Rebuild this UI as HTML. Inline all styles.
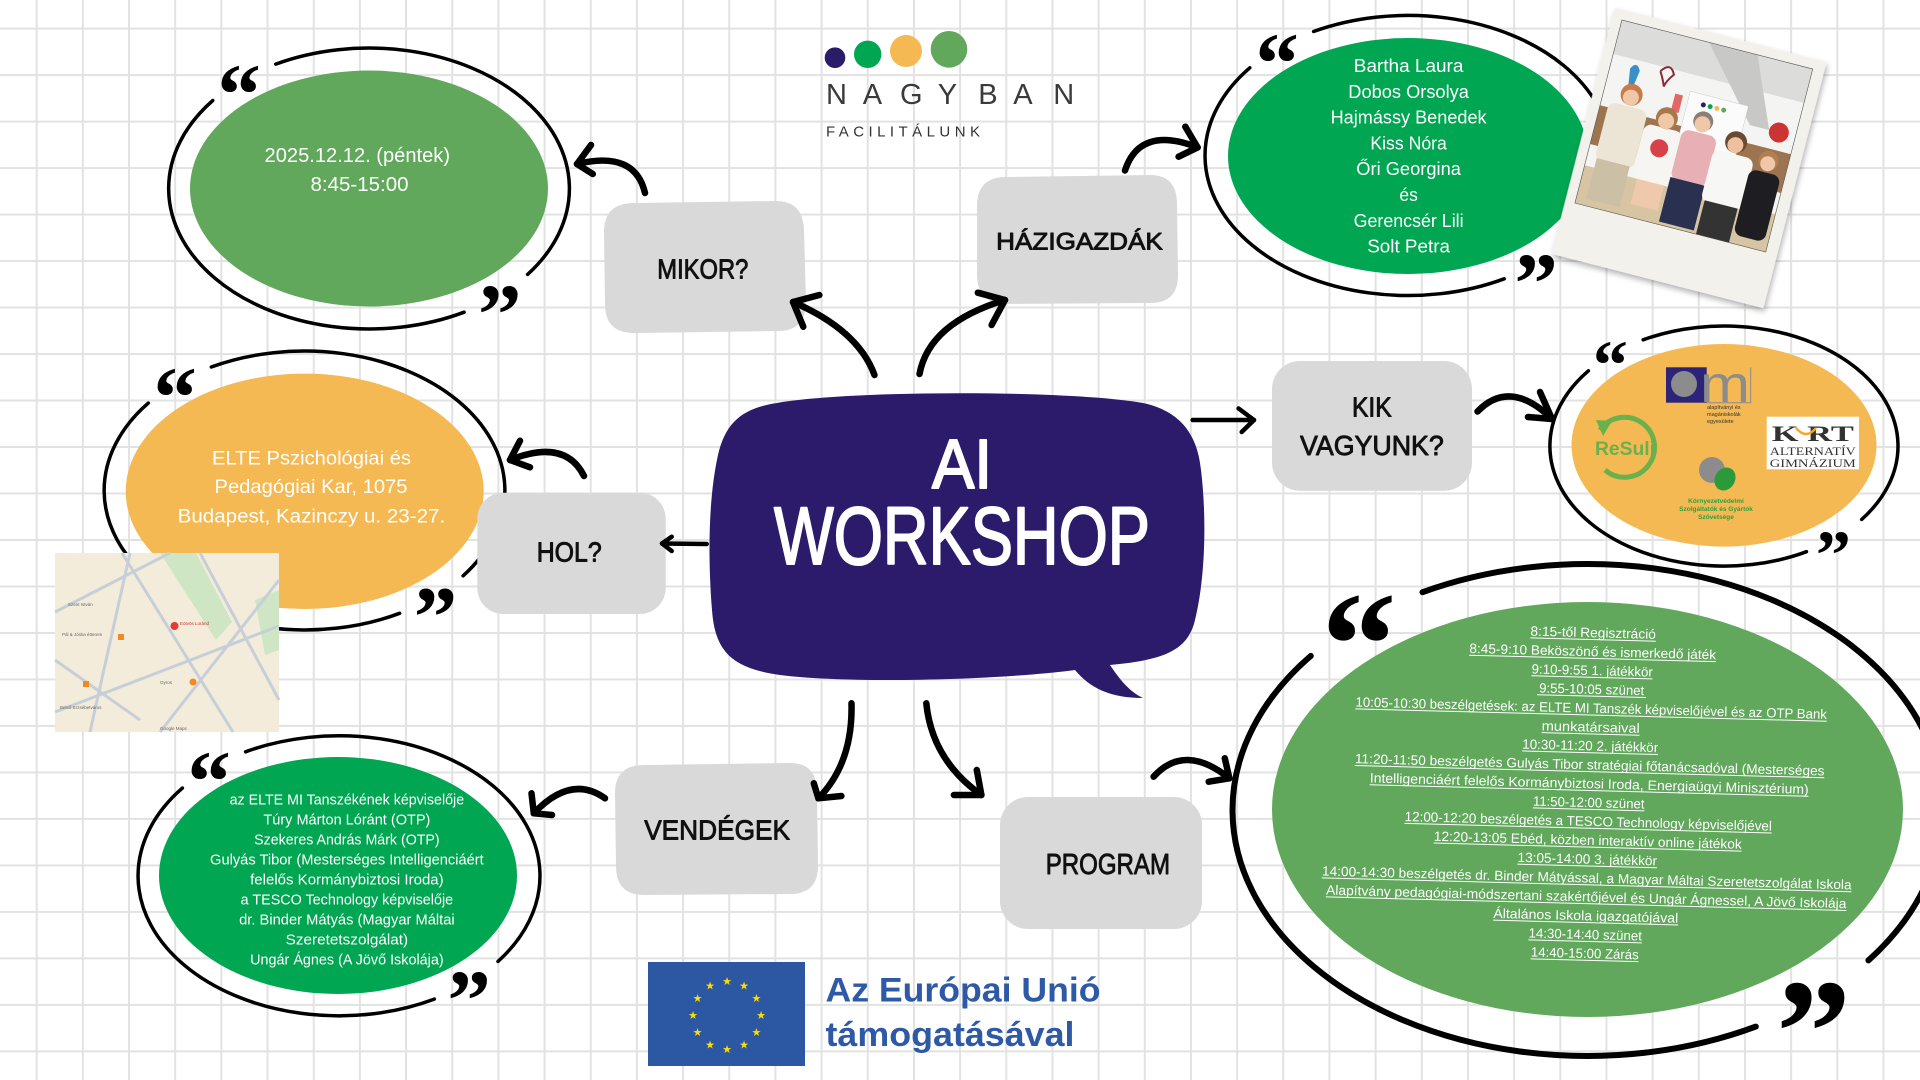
<!DOCTYPE html>
<html><head><meta charset="utf-8"><style>
html,body{margin:0;padding:0;background:#fff;}
body{width:1920px;height:1080px;overflow:hidden;}
svg{display:block;}
</style></head><body>
<svg width="1920" height="1080" viewBox="0 0 1920 1080" xmlns="http://www.w3.org/2000/svg">
<defs>
<pattern id="gv" x="35.7" y="0" width="46.17" height="1080" patternUnits="userSpaceOnUse"><rect x="0" y="0" width="2" height="1080" fill="#e2e2e2"/></pattern>
<pattern id="gh" x="0" y="27.6" width="1920" height="46.49" patternUnits="userSpaceOnUse"><rect x="0" y="0" width="1920" height="2" fill="#e2e2e2"/></pattern>
<filter id="sh" x="-20%" y="-20%" width="140%" height="140%"><feDropShadow dx="2" dy="3" stdDeviation="3" flood-color="#000" flood-opacity="0.3"/></filter>
</defs>
<rect width="1920" height="1080" fill="#fff"/>
<rect width="1920" height="1080" fill="url(#gv)"/>
<rect width="1920" height="1080" fill="url(#gh)"/>

<!-- LOGO -->
<circle cx="835" cy="57.7" r="10.3" fill="#2c1a6a"/>
<circle cx="867.7" cy="54.3" r="13.7" fill="#00a651"/>
<circle cx="906" cy="51" r="16" fill="#f5b953"/>
<circle cx="949" cy="49.3" r="18.3" fill="#61a85c"/>
<text x="826 862.7 900 937.7 978.3 1013.3 1053.3" y="104" font-family="Liberation Sans, sans-serif" font-size="29" fill="#3a3a3a" font-weight="300">NAGYBAN</text>
<text x="826" y="136.7" font-family="Liberation Sans, sans-serif" font-size="15" fill="#333" textLength="154" lengthAdjust="spacing">FACILITÁLUNK</text>

<!-- ELLIPSE FILLS -->
<ellipse cx="369" cy="188.5" rx="179" ry="118" fill="#61a85c"/>
<ellipse cx="1408" cy="156" rx="180" ry="118" fill="#00a651"/>
<ellipse cx="1724" cy="445.3" rx="152.5" ry="101.3" fill="#f5b953"/>
<ellipse cx="304.7" cy="491.3" rx="179" ry="117.7" fill="#f5b953"/>
<ellipse cx="338" cy="875.5" rx="179" ry="118.5" fill="#00a651"/>
<ellipse cx="1587.5" cy="809.5" rx="315.5" ry="207.5" fill="#61a85c"/>

<!-- RINGS -->
<g fill="none" stroke="#000" stroke-width="3.5" stroke-linecap="round">
<path d="M275.8 64.1 A200.5 140.5 0 0 1 527.6 274.4 M464.1 312.2 A200.5 140.5 0 0 1 212.8 100.5"/>
<path d="M1313.6 31.5 A203 140 0 0 1 1568.6 241.1 M1504.2 278.8 A203 140 0 0 1 1249.8 67.8"/>
<path d="M211.3 367 A200.5 139.5 0 0 1 463.1 575.8 M399.6 613.3 A200.5 139.5 0 0 1 148.3 403.1"/>
<path d="M245.6 751.8 A201 140 0 0 1 498 961.4 M434.3 999.1 A201 140 0 0 1 182.4 788.1"/>
<path d="M1643.1 339.8 A174 120 0 0 1 1861.7 519.4 M1806.5 551.7 A174 120 0 0 1 1588.4 370.8"/>
<path stroke-width="6" d="M1422.5 592.2 A355 246 0 0 1 1868.4 960.4 M1755.8 1026.6 A355 246 0 0 1 1310.8 655.9"/>
</g>

<!-- QUOTES -->
<g font-family="Liberation Serif, serif" font-weight="bold" fill="#000">
<text x="217.4" y="123.7" font-size="87">“</text>
<text x="478" y="344" font-size="87">”</text>
<text x="1255.4" y="92.7" font-size="87">“</text>
<text x="1514.4" y="313" font-size="87">”</text>
<text x="153.4" y="426.7" font-size="87">“</text>
<text x="413.8" y="646.5" font-size="87">”</text>
<text x="187.4" y="810.7" font-size="87">“</text>
<text x="447.4" y="1030" font-size="87">”</text>
<text x="1592.9" y="388.3" font-size="70">“</text>
<text x="1815.9" y="578.3" font-size="70">”</text>
<text x="1321.5" y="695.1" font-size="150">“</text>
<text x="1776.1" y="1082.5" font-size="150">”</text>
</g>

<!-- CIRCLE TEXTS -->
<g font-family="Liberation Sans, sans-serif" fill="#fff" text-anchor="middle">
<text x="357.3" y="162" font-size="20" textLength="185.5" lengthAdjust="spacingAndGlyphs">2025.12.12. (péntek)</text>
<text x="359.5" y="191" font-size="20" textLength="98" lengthAdjust="spacingAndGlyphs">8:45-15:00</text>

<text x="1408.6" y="72" font-size="18" textLength="109.6" lengthAdjust="spacingAndGlyphs">Bartha Laura</text>
<text x="1408.6" y="97.8" font-size="18" textLength="120.6" lengthAdjust="spacingAndGlyphs">Dobos Orsolya</text>
<text x="1408.6" y="123.5" font-size="18" textLength="156" lengthAdjust="spacingAndGlyphs">Hajmássy Benedek</text>
<text x="1408.6" y="149.5" font-size="18" textLength="76.5" lengthAdjust="spacingAndGlyphs">Kiss Nóra</text>
<text x="1408.6" y="175.2" font-size="18" textLength="104.7" lengthAdjust="spacingAndGlyphs">Őri Georgina</text>
<text x="1408.6" y="201" font-size="18" textLength="18.4" lengthAdjust="spacingAndGlyphs">és</text>
<text x="1408.6" y="227" font-size="18" textLength="110" lengthAdjust="spacingAndGlyphs">Gerencsér Lili</text>
<text x="1408.6" y="252.7" font-size="18" textLength="82.7" lengthAdjust="spacingAndGlyphs">Solt Petra</text>

<text x="311.5" y="464.3" font-size="19.5" textLength="199" lengthAdjust="spacingAndGlyphs">ELTE Pszichológiai és</text>
<text x="311" y="493.2" font-size="19.5" textLength="193" lengthAdjust="spacingAndGlyphs">Pedagógiai Kar, 1075</text>
<text x="311.4" y="522.5" font-size="19.5" textLength="267.6" lengthAdjust="spacingAndGlyphs">Budapest, Kazinczy u. 23-27.</text>

<text x="346.9" y="804.4" font-size="15" textLength="234.5" lengthAdjust="spacingAndGlyphs">az ELTE MI Tanszékének képviselője</text>
<text x="346.9" y="824.4" font-size="15" textLength="167" lengthAdjust="spacingAndGlyphs">Túry Márton Lóránt (OTP)</text>
<text x="346.9" y="844.4" font-size="15" textLength="185.5" lengthAdjust="spacingAndGlyphs">Szekeres András Márk (OTP)</text>
<text x="346.9" y="864.4" font-size="15" textLength="273.7" lengthAdjust="spacingAndGlyphs">Gulyás Tibor (Mesterséges Intelligenciáért</text>
<text x="346.9" y="884.4" font-size="15" textLength="193.5" lengthAdjust="spacingAndGlyphs">felelős Kormánybiztosi Iroda)</text>
<text x="346.9" y="904.4" font-size="15" textLength="212.5" lengthAdjust="spacingAndGlyphs">a TESCO Technology képviselője</text>
<text x="346.9" y="924.4" font-size="15" textLength="215.5" lengthAdjust="spacingAndGlyphs">dr. Binder Mátyás (Magyar Máltai</text>
<text x="346.9" y="944.4" font-size="15" textLength="122.5" lengthAdjust="spacingAndGlyphs">Szeretetszolgálat)</text>
<text x="346.9" y="964.4" font-size="15" textLength="193.5" lengthAdjust="spacingAndGlyphs">Ungár Ágnes (A Jövő Iskolája)</text>
</g>

<!-- PROGRAM TEXT -->
<g transform="rotate(1.5 1589 793)" font-family="Liberation Sans, sans-serif" fill="#fff" text-anchor="middle" font-size="13.5">
<g stroke="#fff" stroke-width="1">
<line x1="1526.2" y1="639.5" x2="1651.8" y2="639.5"/>
<line x1="1465.6" y1="658.4" x2="1712.4" y2="658.4"/>
<line x1="1528.4" y1="677.3" x2="1649.6" y2="677.3"/>
<line x1="1534.5" y1="696.1" x2="1643.5" y2="696.1"/>
<line x1="1353.2" y1="715" x2="1824.8" y2="715"/>
<line x1="1540" y1="733.9" x2="1638" y2="733.9"/>
<line x1="1521" y1="752.7" x2="1657" y2="752.7"/>
<line x1="1354.1" y1="771.6" x2="1823.8" y2="771.6"/>
<line x1="1369.5" y1="790.5" x2="1808.5" y2="790.5"/>
<line x1="1533.2" y1="809.4" x2="1644.8" y2="809.4"/>
<line x1="1405.3" y1="828.2" x2="1772.7" y2="828.2"/>
<line x1="1435" y1="847.1" x2="1743" y2="847.1"/>
<line x1="1519.2" y1="866" x2="1658.8" y2="866"/>
<line x1="1324.1" y1="884.8" x2="1853.9" y2="884.8"/>
<line x1="1328.7" y1="903.7" x2="1849.3" y2="903.7"/>
<line x1="1496.5" y1="922.6" x2="1681.5" y2="922.6"/>
<line x1="1532.3" y1="941.4" x2="1645.7" y2="941.4"/>
<line x1="1535.1" y1="960.3" x2="1642.9" y2="960.3"/>
</g>
<text x="1589" y="637.2" textLength="125.5" lengthAdjust="spacingAndGlyphs">8:15-től Regisztráció</text>
<text x="1589" y="656.1" textLength="246.8" lengthAdjust="spacingAndGlyphs">8:45-9:10 Beköszönő és ismerkedő játék</text>
<text x="1589" y="675" textLength="121.2" lengthAdjust="spacingAndGlyphs">9:10-9:55 1. játékkör</text>
<text x="1589" y="693.8" textLength="105" lengthAdjust="spacingAndGlyphs">9:55-10:05 szünet</text>
<text x="1589" y="712.7" textLength="471.5" lengthAdjust="spacingAndGlyphs">10:05-10:30 beszélgetések: az ELTE MI Tanszék képviselőjével és az OTP Bank</text>
<text x="1589" y="731.6" textLength="98" lengthAdjust="spacingAndGlyphs">munkatársaival</text>
<text x="1589" y="750.4" textLength="136" lengthAdjust="spacingAndGlyphs">10:30-11:20 2. játékkör</text>
<text x="1589" y="769.3" textLength="469.7" lengthAdjust="spacingAndGlyphs">11:20-11:50 beszélgetés Gulyás Tibor stratégiai főtanácsadóval (Mesterséges</text>
<text x="1589" y="788.2" textLength="439" lengthAdjust="spacingAndGlyphs">Intelligenciáért felelős Kormánybiztosi Iroda, Energiaügyi Minisztérium)</text>
<text x="1589" y="807.1" textLength="111.5" lengthAdjust="spacingAndGlyphs">11:50-12:00 szünet</text>
<text x="1589" y="825.9" textLength="367.4" lengthAdjust="spacingAndGlyphs">12:00-12:20 beszélgetés a TESCO Technology képviselőjével</text>
<text x="1589" y="844.8" textLength="308" lengthAdjust="spacingAndGlyphs">12:20-13:05 Ebéd, közben interaktív online játékok</text>
<text x="1589" y="863.7" textLength="139.6" lengthAdjust="spacingAndGlyphs">13:05-14:00 3. játékkör</text>
<text x="1589" y="882.5" textLength="529.7" lengthAdjust="spacingAndGlyphs">14:00-14:30 beszélgetés dr. Binder Mátyással, a Magyar Máltai Szeretetszolgálat Iskola</text>
<text x="1589" y="901.4" textLength="520.5" lengthAdjust="spacingAndGlyphs">Alapítvány pedagógiai-módszertani szakértőjével és Ungár Ágnessel, A Jövő Iskolája</text>
<text x="1589" y="920.3" textLength="185" lengthAdjust="spacingAndGlyphs">Általános Iskola igazgatójával</text>
<text x="1589" y="939.1" textLength="113.3" lengthAdjust="spacingAndGlyphs">14:30-14:40 szünet</text>
<text x="1589" y="958" textLength="107.8" lengthAdjust="spacingAndGlyphs">14:40-15:00 Zárás</text>
</g>

<!-- KIK LOGOS -->
<rect x="1666" y="367.3" width="40.7" height="35.4" fill="#2b2478"/>
<circle cx="1684" cy="384" r="13" fill="#8c8c8c"/>
<text x="1700" y="402" font-family="Liberation Sans, sans-serif" font-size="52" fill="#8c8c8c" textLength="50" lengthAdjust="spacingAndGlyphs">m</text>
<path d="M1750.7 367.3 V402.7 H1706.7" fill="none" stroke="#8c8c8c" stroke-width="1"/>
<g font-family="Liberation Sans, sans-serif" font-size="5.5" fill="#333">
<text x="1707" y="409">alapítványi és</text>
<text x="1707" y="416">magániskolák</text>
<text x="1707" y="423">egyesülete</text>
</g>
<path d="M1600 430 A30 30 0 1 1 1605 470" fill="none" stroke="#6ab04c" stroke-width="5"/>
<path d="M1603 436 L1612 421 L1596 420 Z" fill="#6ab04c"/>
<text x="1595" y="455" font-family="Liberation Sans, sans-serif" font-weight="bold" font-size="19" fill="#6ab04c" textLength="60" lengthAdjust="spacingAndGlyphs">ReSuli</text>
<rect x="1766.7" y="416.7" width="92.3" height="52.6" fill="#fff"/>
<g font-family="Liberation Serif, serif" fill="#333" text-anchor="middle">
<text x="1812.8" y="441" font-size="22" font-weight="bold" textLength="82" lengthAdjust="spacingAndGlyphs">K    RT</text>
<text x="1812.8" y="455" font-size="12" textLength="86" lengthAdjust="spacingAndGlyphs">ALTERNATÍV</text>
<text x="1812.8" y="467" font-size="12" textLength="86" lengthAdjust="spacingAndGlyphs">GIMNÁZIUM</text>
</g>
<path d="M1796 428 Q1806 440 1816 428" fill="none" stroke="#f5a623" stroke-width="2.5"/>
<circle cx="1712" cy="470" r="13" fill="#8c8c8c"/>
<ellipse cx="1725" cy="479" rx="10" ry="12" fill="#2a9a3a" transform="rotate(30 1725 479)"/>
<g font-family="Liberation Sans, sans-serif" font-size="6.5" font-weight="bold" fill="#2e9e3e" text-anchor="middle">
<text x="1716" y="503">Környezetvédelmi</text>
<text x="1716" y="511">Szolgáltatók és Gyártók</text>
<text x="1716" y="519">Szövetsége</text>
</g>

<!-- PHOTO -->
<g transform="translate(1689 158) rotate(14.4)">
<rect x="-109.3" y="-127" width="218.6" height="254" fill="#f2f1ec" filter="url(#sh)"/>
<g transform="translate(-99.3 -117)">
<rect width="197" height="189" fill="#f4f4f2"/>
<rect width="197" height="35" fill="#dcdcda"/>
<polygon points="90,0 140,0 170,70 150,70" fill="#c8c8c6"/>
<rect x="0" y="88" width="197" height="40" fill="#9c7450"/>
<rect x="0" y="150" width="197" height="39" fill="#d6c4a2"/>
<rect x="84" y="52" width="60" height="60" fill="#fbfbfb" stroke="#ccc" stroke-width="0.5"/>
<circle cx="100" cy="62" r="2.5" fill="#2c1a6a"/><circle cx="107" cy="62" r="2.5" fill="#00a651"/><circle cx="114" cy="62" r="2.5" fill="#f5b953"/><circle cx="121" cy="62" r="2.5" fill="#61a85c"/>
<rect x="70" y="58" width="8" height="18" fill="#d44" opacity="0.8"/>
<path d="M20 45 q5 -10 10 0 l-3 20 l-4 0 z" fill="#3a8fc8"/>
<path d="M50 40 q8 -12 14 0 q-6 8 -7 14 q-2 -6 -7 -14" fill="none" stroke="#8a2a3a" stroke-width="2"/>
<circle cx="180" cy="70" r="10" fill="#c33"/>
<rect x="8" y="82" width="40" height="60" rx="8" fill="#ece4d4"/>
<rect x="10" y="140" width="34" height="42" fill="#cbbfa5"/>
<circle cx="28" cy="70" r="11" fill="#c87a4a"/><circle cx="28" cy="73" r="8" fill="#f0c8a8"/>
<rect x="48" y="94" width="40" height="56" rx="8" fill="#f7f5f2"/>
<circle cx="68" cy="115" r="9" fill="#d8404a"/>
<rect x="54" y="150" width="28" height="26" fill="#efc9ac"/>
<circle cx="68" cy="84" r="11" fill="#a8784a"/><circle cx="68" cy="87" r="8" fill="#f0c8a8"/>
<rect x="86" y="90" width="36" height="52" rx="8" fill="#e8b0b4"/>
<rect x="86" y="140" width="36" height="46" fill="#2a3050"/>
<circle cx="104" cy="78" r="10" fill="#8a8078"/><circle cx="104" cy="81" r="8" fill="#f0c8a8"/>
<rect x="121" y="102" width="42" height="54" rx="8" fill="#f7f7f5"/>
<rect x="125" y="154" width="34" height="35" fill="#333"/>
<circle cx="141" cy="90" r="11" fill="#6a4a30"/><circle cx="141" cy="93" r="8" fill="#eec0a0"/>
<rect x="161" y="112" width="32" height="68" rx="8" fill="#1e1e22"/>
<circle cx="177" cy="100" r="10" fill="#b08050"/><circle cx="177" cy="103" r="7.5" fill="#f0c8a8"/>
<rect width="197" height="189" fill="none" stroke="#555" stroke-width="0.6"/>
</g>
</g>

<!-- MAP -->
<g>
<rect x="55" y="553" width="224" height="179" fill="#f4ecda"/>
<polygon points="160,553 196,553 232,622 216,640" fill="#cfe6c4"/>
<polygon points="255,600 279,590 279,650 265,655" fill="#cfe6c4"/>
<g stroke="#c6cfd8" stroke-width="3" fill="none">
<line x1="55" y1="712" x2="279" y2="626"/>
<line x1="122" y1="553" x2="233" y2="732"/>
<line x1="55" y1="612" x2="170" y2="553"/>
<line x1="200" y1="553" x2="279" y2="700"/>
<line x1="90" y1="732" x2="130" y2="553"/>
<line x1="160" y1="732" x2="279" y2="580"/>
<line x1="55" y1="660" x2="140" y2="720"/>
</g>
<circle cx="174.5" cy="626" r="4" fill="#e53935"/>
<rect x="118" y="634" width="6" height="6" fill="#f08a24"/>
<rect x="83" y="681" width="6" height="6" fill="#f08a24"/>
<circle cx="193" cy="682" r="3.5" fill="#f08a24"/>
<g font-family="Liberation Sans, sans-serif" font-size="4.5" fill="#666">
<text x="68" y="606">Szent István</text>
<text x="62" y="636">Pál &amp; Jóska étterem</text>
<text x="180" y="625" fill="#c33">Eötvös Loránd</text>
<text x="160" y="684">Gyros</text>
<text x="60" y="709">Belső-Erzsébetváros</text>
<text x="160" y="730">Google Maps</text>
</g>
</g>

<!-- GRAY BOXES -->
<g fill="#d9d9d9">
<path d="M634 203 L776 201 Q803 201 804 230 L806 302 Q806 331 778 331 L634 333 Q605 333 605 304 L604 232 Q604 203 634 203 Z"/>
<path d="M1006 177 L1150 175 Q1177 175 1177 204 L1178 275 Q1178 303 1150 303 L1006 304 Q978 304 977 276 L977 206 Q977 177 1006 177 Z"/>
<rect x="1272" y="361" width="200" height="129.7" rx="28"/>
<rect x="477.3" y="492.7" width="188.4" height="121.3" rx="26"/>
<path d="M644 765 L790 763 Q817 763 817 792 L818 866 Q818 894 790 894 L644 895 Q616 895 616 866 L615 793 Q615 765 644 765 Z"/>
<rect x="1000" y="797" width="202" height="132" rx="28"/>
</g>
<g font-family="Liberation Sans, sans-serif" fill="#111" stroke="#111" stroke-width="0.9" stroke-linejoin="round">
<text x="657.3" y="278.3" font-size="28" textLength="91" lengthAdjust="spacingAndGlyphs">MIKOR?</text>
<text x="996.2" y="249.3" font-size="24" textLength="166.6" lengthAdjust="spacingAndGlyphs">HÁZIGAZDÁK</text>
<text x="1352" y="416.7" font-size="28" textLength="39.7" lengthAdjust="spacingAndGlyphs">KIK</text>
<text x="1300" y="455.2" font-size="28" textLength="143.8" lengthAdjust="spacingAndGlyphs">VAGYUNK?</text>
<text x="536.7" y="561.7" font-size="28" textLength="65" lengthAdjust="spacingAndGlyphs">HOL?</text>
<text x="644.2" y="839.6" font-size="28" textLength="145.8" lengthAdjust="spacingAndGlyphs">VENDÉGEK</text>
<text x="1045.7" y="874" font-size="29" textLength="124.3" lengthAdjust="spacingAndGlyphs">PROGRAM</text>
</g>

<!-- BUBBLE -->
<path d="M777 403 C850 390 1070 390 1143 403 C1185 412 1198 440 1201 470 C1207 520 1205 580 1195 620 C1188 650 1165 660 1110 665 C1120 680 1130 692 1143 698 C1110 698 1090 688 1075 670 C1000 680 850 684 780 675 C730 668 715 650 712 610 C708 560 708 500 718 455 C726 420 745 408 777 403 Z" fill="#2c1a6a"/>
<g font-family="Liberation Sans, sans-serif" fill="#fff" stroke="#fff" stroke-width="2" stroke-linejoin="round" stroke-linecap="round">
<text x="932" y="488" font-size="70" textLength="60" lengthAdjust="spacingAndGlyphs">AI</text>
<text x="774" y="564" font-size="82" textLength="376" lengthAdjust="spacingAndGlyphs">WORKSHOP</text>
</g>

<!-- ARROWS -->
<g fill="none" stroke="#000" stroke-width="6.5" stroke-linecap="round" stroke-linejoin="round">
<path d="M874.5 375 Q858 330 793 302"/>
<path d="M819.4 295 L793 302 L803.3 326.7"/>
<path d="M919.5 374 Q929 323 1005 300"/>
<path d="M977.8 292.7 L1005 300 L991.6 325"/>
<path d="M645 193 Q635 150 577 164"/>
<path d="M591 145 L577 164 L592.8 174"/>
<path d="M1125 170.5 Q1140 125 1197.6 147.4"/>
<path d="M1185.3 126.7 L1197.6 147.4 L1178.6 156.7"/>
<path d="M1477.5 411.5 Q1510 378 1552 419"/>
<path d="M1540 392 L1552 419 L1528 417"/>
<path d="M584 476 Q565 438 510 460"/>
<path d="M520 440.7 L510 460 L530 467.3"/>
<path d="M851.5 703.3 Q853 763 818.4 798.3"/>
<path d="M813.8 783.3 L818.4 798.3 L841.4 796"/>
<path d="M926.3 703.3 Q932 760 981.4 795"/>
<path d="M976.8 770 L981.4 795 L953.9 795"/>
<path d="M605 798.3 Q571 774 533.8 813.3"/>
<path d="M531.5 793.3 L533.8 813.3 L552 815"/>
<path d="M1153.6 776.7 Q1184.5 742.5 1229.4 778.3"/>
<path d="M1224.8 758.3 L1229.4 778.3 L1208.7 781.7"/>
</g>
<g fill="none" stroke="#000" stroke-width="4.5" stroke-linecap="round" stroke-linejoin="round">
<path d="M1192.7 420 L1254 420"/>
<path d="M1238.6 408.5 L1254 420 L1241.7 432"/>
<path d="M706.7 544 L662 543.5"/>
<path d="M671.7 536.7 L662 543.5 L671.7 551"/>
</g>

<!-- EU -->
<rect x="648" y="962" width="157" height="104" fill="#2b57a3"/>
<g font-family="DejaVu Sans, sans-serif" font-size="11" fill="#ffdd00" text-anchor="middle">
<text x="727" y="985">★</text><text x="744" y="989.6">★</text><text x="756.4" y="1002">★</text><text x="761" y="1019">★</text>
<text x="756.4" y="1036">★</text><text x="744" y="1048.4">★</text><text x="727" y="1053">★</text><text x="710" y="1048.4">★</text>
<text x="697.6" y="1036">★</text><text x="693" y="1019">★</text><text x="697.6" y="1002">★</text><text x="710" y="989.6">★</text>
</g>
<g font-family="Liberation Sans, sans-serif" font-weight="bold" fill="#2d59a6">
<text x="825.5" y="1001.4" font-size="34" textLength="275" lengthAdjust="spacingAndGlyphs">Az Európai Unió</text>
<text x="825.5" y="1046" font-size="34" textLength="249" lengthAdjust="spacingAndGlyphs">támogatásával</text>
</g>
</svg>
</body></html>
